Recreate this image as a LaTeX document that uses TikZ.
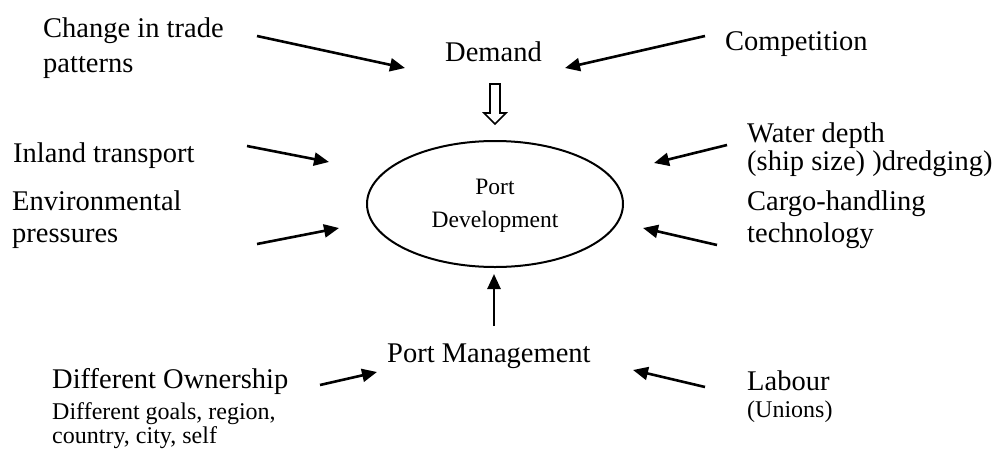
\documentclass[tikz,border=0pt]{standalone}
\usepackage{fontspec}
\setmainfont{Liberation Serif}
\usetikzlibrary{arrows.meta,shapes.geometric}
\begin{document}
\begin{tikzpicture}[x=1pt,y=-1pt,
  big/.style={anchor=base west,inner sep=0pt,font=\fontsize{28.5}{34}\selectfont},
  small/.style={anchor=base west,inner sep=0pt,font=\fontsize{24}{28}\selectfont},
  centre/.style={anchor=base,inner sep=0pt,font=\fontsize{23.5}{28}\selectfont},
  influence/.style={line width=2.6pt,-{Triangle[length=15pt,width=13pt]}}]
\useasboundingbox (0,0) rectangle (1003,450);

% ellipse
\node[draw,ellipse,line width=2pt,minimum width=256pt,minimum height=126pt,inner sep=0pt] (dev) at (495,204) {};
\node[centre] (devA) at (495,194) {Port};
\node[centre] (devB) at (495,227) {Development};

% labels
\node[big] (tradeA) at (43,37) {Change in trade};
\node[big] (tradeB) at (43,72) {patterns};
\node[big] (demand) at (445,61) {Demand};
\node[big] (comp) at (725,50) {Competition};
\node[big] (inland) at (13,162) {Inland transport};
\node[big] (waterA) at (747,142) {Water depth};
\node[big] (waterB) at (747,170) {(ship size) )dredging)};
\node[big] (envA) at (12,210) {Environmental};
\node[big] (envB) at (12,242) {pressures};
\node[big] (cargoA) at (747,210) {Cargo-handling};
\node[big] (cargoB) at (747,242) {technology};
\node[big] (mgmt) at (387,362) {Port Management};
\node[big] (ownA) at (52,388) {Different Ownership};
\node[small] (ownB) at (52,419) {Different goals, region,};
\node[small] (ownC) at (52,443) {country, city, self};
\node[big] (labA) at (747,390) {Labour};
\node[small] (labB) at (747,417) {(Unions)};

% arrow end points
\coordinate (tradeS) at (257,36);  \coordinate (tradeT) at (405,68);
\coordinate (compS) at (705,36);   \coordinate (compT) at (565,68);
\coordinate (inlandS) at (247,146); \coordinate (inlandT) at (329,162);
\coordinate (envS) at (257,244);   \coordinate (envT) at (339,228);
\coordinate (waterS) at (727,145); \coordinate (waterT) at (654,163);
\coordinate (cargoS) at (717,245); \coordinate (cargoT) at (643,228);
\coordinate (mgmtS) at (494,326);  \coordinate (mgmtT) at (494,274);
\coordinate (ownS) at (320,385);   \coordinate (ownT) at (377,372);
\coordinate (labS) at (705,387);   \coordinate (labT) at (633,370);

\draw[influence] (tradeS) -- (tradeT);
\draw[influence] (compS) -- (compT);
\draw[influence] (inlandS) -- (inlandT);
\draw[influence] (envS) -- (envT);
\draw[influence] (waterS) -- (waterT);
\draw[influence] (cargoS) -- (cargoT);
\draw[influence] (mgmtS) -- (mgmtT);
\draw[influence] (ownS) -- (ownT);
\draw[influence] (labS) -- (labT);

% hollow arrow from Demand
\draw[line width=1.6pt,line join=miter] (490,84) -- (500,84) -- (500,113) -- (506,113) -- (495,124) -- (484,113) -- (490,113) -- cycle;
\end{tikzpicture}
\end{document}
